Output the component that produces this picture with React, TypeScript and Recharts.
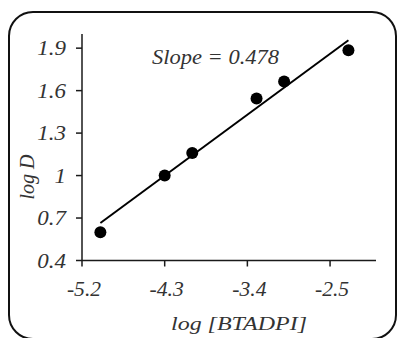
import React from "react";
import { ScatterChart, Scatter, XAxis, YAxis } from "recharts";

// pontos medidos (log [BTADPI], log D)
const LOG_BTADPI = [-5.0, -4.3, -4.0, -3.3, -3.0, -2.3];
const LOG_D = [0.6, 1.0, 1.16, 1.545, 1.665, 1.885];

// reta ajustada, extremos
const FIT_X = [-5.0, -2.3];
const FIT_Y = [0.665, 1.956];

const X_TICKS = [-5.2, -4.3, -3.4, -2.5];
const Y_TICKS = [0.4, 0.7, 1, 1.3, 1.6, 1.9];

const SLOPE_LABEL = "Slope = 0.478";
const X_TITLE = "log [BTADPI]";
const Y_TITLE = "log D";

const FONTE = "Liberation Serif";
const COR_TEXTO = "#333";
const COR_EIXO = "#1a1a1a";

const estiloTexto: React.CSSProperties = { fontFamily: FONTE, fontStyle: "italic" };

const pontos = LOG_BTADPI.map((x, i) => ({ x, y: LOG_D[i] }));
const reta = FIT_X.map((x, i) => ({ x, y: FIT_Y[i] }));

function TickY({ x, y, payload }: any) {
  return (
    <g transform={`translate(${x},${y + 7})`}>
      <text
        transform="scale(1.15,1)"
        textAnchor="end"
        fontFamily={FONTE}
        fontStyle="italic"
        style={estiloTexto}
        fontSize={20}
        fill={COR_TEXTO}
      >
        {String(payload.value)}
      </text>
    </g>
  );
}

function TickX({ x, y, payload }: any) {
  return (
    <g transform={`translate(${x + 2},${y + 27})`}>
      <text
        transform="scale(1.08,1)"
        textAnchor="middle"
        fontFamily={FONTE}
        fontStyle="italic"
        style={estiloTexto}
        fontSize={20}
        fill={COR_TEXTO}
      >
        {String(payload.value)}
      </text>
    </g>
  );
}

function Ponto({ cx, cy }: any) {
  return <circle cx={cx} cy={cy} r={6} fill="#000" />;
}

export default function App() {
  return (
    <div style={{ position: "absolute", left: 0, top: 0, width: 398, height: 338, background: "#fff", overflow: "hidden" }}>
      <ScatterChart width={398} height={338} margin={{ top: 34, right: 22, bottom: 0, left: 0 }}>
        <XAxis
          type="number"
          dataKey="x"
          domain={[-5.2, -2.0]}
          ticks={X_TICKS}
          tick={<TickX />}
          tickSize={6}
          height={77.5}
          axisLine={{ stroke: COR_EIXO, strokeWidth: 1.5 }}
          tickLine={{ stroke: COR_EIXO, strokeWidth: 1.5 }}
          allowDataOverflow
        />
        <YAxis
          type="number"
          dataKey="y"
          domain={[0.4, 2.0]}
          ticks={Y_TICKS}
          tick={<TickY />}
          tickSize={6}
          tickMargin={10}
          width={82}
          axisLine={{ stroke: COR_EIXO, strokeWidth: 1.5 }}
          tickLine={{ stroke: COR_EIXO, strokeWidth: 1.5 }}
          allowDataOverflow
        />
        <Scatter
          data={reta}
          line={{ stroke: "#000", strokeWidth: 2 }}
          shape={() => <g />}
          isAnimationActive={false}
        />
        <Scatter data={pontos} shape={<Ponto />} isAnimationActive={false} />
      </ScatterChart>

      {/* moldura arredondada e textos soltos */}
      <svg width={398} height={338} style={{ position: "absolute", left: 0, top: 0, pointerEvents: "none" }}>
        <rect x={9} y={12} width={387} height={327} rx={24} ry={24} fill="none" stroke="#111" strokeWidth={2} />
        <text
          x={152}
          y={64}
          textLength={127}
          lengthAdjust="spacingAndGlyphs"
          fontFamily={FONTE}
          fontStyle="italic"
          style={estiloTexto}
          fontSize={20}
          fill={COR_TEXTO}
        >
          {SLOPE_LABEL}
        </text>
        <text
          x={171}
          y={330}
          textLength={136}
          lengthAdjust="spacingAndGlyphs"
          fontFamily={FONTE}
          fontStyle="italic"
          style={estiloTexto}
          fontSize={19}
          fill={COR_TEXTO}
        >
          {X_TITLE}
        </text>
        <text
          transform="translate(34,177) rotate(-90)"
          textAnchor="middle"
          fontFamily={FONTE}
          fontStyle="italic"
          style={estiloTexto}
          fontSize={20}
          fill={COR_TEXTO}
        >
          {Y_TITLE}
        </text>
      </svg>
    </div>
  );
}
